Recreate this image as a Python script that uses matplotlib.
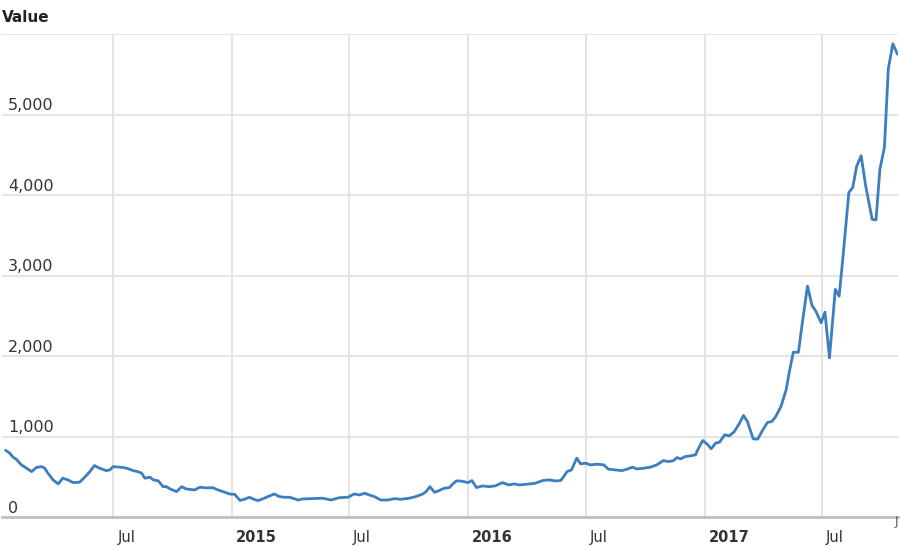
import matplotlib
matplotlib.use("Agg")
import matplotlib.pyplot as plt
import matplotlib.dates as mdates
import matplotlib.transforms as mtrans
import pandas as pd

dates = [
    "2014-01-16", "2014-01-22", "2014-01-27", "2014-02-01", "2014-02-09", "2014-02-17",
    "2014-02-25", "2014-03-04", "2014-03-12", "2014-03-17", "2014-03-22", "2014-03-30",
    "2014-04-07", "2014-04-14", "2014-04-22", "2014-04-30", "2014-05-10", "2014-05-18",
    "2014-05-26", "2014-06-02", "2014-06-10", "2014-06-20", "2014-06-26", "2014-07-01",
    "2014-07-11", "2014-07-22", "2014-08-01", "2014-08-08", "2014-08-14", "2014-08-19",
    "2014-08-27", "2014-09-01", "2014-09-09", "2014-09-16", "2014-09-21", "2014-09-28",
    "2014-10-07", "2014-10-15", "2014-10-22", "2014-11-04", "2014-11-12", "2014-11-22",
    "2014-12-02", "2014-12-10", "2014-12-18", "2014-12-28", "2015-01-05", "2015-01-13",
    "2015-01-20", "2015-01-28", "2015-02-02", "2015-02-10", "2015-02-17", "2015-02-28",
    "2015-03-07", "2015-03-15", "2015-03-23", "2015-03-31", "2015-04-13", "2015-04-20",
    "2015-05-06", "2015-05-21", "2015-06-03", "2015-06-16", "2015-06-29", "2015-07-09",
    "2015-07-17", "2015-07-25", "2015-08-01", "2015-08-09", "2015-08-19", "2015-08-30",
    "2015-09-09", "2015-09-19", "2015-10-02", "2015-10-12", "2015-10-23", "2015-10-28",
    "2015-11-03", "2015-11-10", "2015-11-17", "2015-11-25", "2015-12-03", "2015-12-08",
    "2015-12-14", "2015-12-21", "2016-01-01", "2016-01-07", "2016-01-14", "2016-01-23",
    "2016-02-02", "2016-02-12", "2016-02-23", "2016-03-04", "2016-03-12", "2016-03-20",
    "2016-04-01", "2016-04-14", "2016-04-25", "2016-05-05", "2016-05-15", "2016-05-23",
    "2016-05-28", "2016-06-02", "2016-06-09", "2016-06-17", "2016-06-23", "2016-07-01",
    "2016-07-08", "2016-07-19", "2016-07-29", "2016-08-05", "2016-08-16", "2016-08-26",
    "2016-09-03", "2016-09-11", "2016-09-18", "2016-09-29", "2016-10-09", "2016-10-19",
    "2016-10-29", "2016-11-06", "2016-11-14", "2016-11-19", "2016-11-25", "2016-12-02",
    "2016-12-10", "2016-12-18", "2016-12-20", "2016-12-26", "2016-12-29", "2017-01-06",
    "2017-01-11", "2017-01-18", "2017-01-24", "2017-02-01", "2017-02-08", "2017-02-16",
    "2017-02-24", "2017-03-02", "2017-03-08", "2017-03-17", "2017-03-24", "2017-04-01",
    "2017-04-08", "2017-04-15", "2017-04-21", "2017-04-29", "2017-05-07", "2017-05-12",
    "2017-05-18", "2017-05-26", "2017-06-01", "2017-06-09", "2017-06-16", "2017-06-22",
    "2017-06-30", "2017-07-06", "2017-07-13", "2017-07-22", "2017-07-28", "2017-08-03",
    "2017-08-12", "2017-08-18", "2017-08-24", "2017-08-31", "2017-09-07", "2017-09-17",
    "2017-09-23", "2017-09-29", "2017-10-06", "2017-10-12", "2017-10-19", "2017-10-26",
]
values = [
    829, 797, 747, 722, 651, 610,
    568, 618, 630, 610, 548, 465,
    415, 486, 465, 431, 436, 498,
    568, 643, 610, 580, 589, 630,
    623, 610, 580, 568, 548, 486,
    498, 465, 452, 381, 381, 349,
    319, 381, 352, 340, 374, 365,
    369, 340, 319, 290, 285, 210,
    224, 249, 228, 207, 228, 265,
    290, 257, 249, 249, 215, 228,
    232, 237, 215, 244, 249, 290,
    278, 299, 278, 257, 215, 215,
    232, 224, 237, 257, 290, 319,
    381, 311, 331, 361, 369, 411,
    452, 450, 431, 456, 369, 390,
    381, 390, 431, 402, 415, 402,
    411, 423, 456, 465, 452, 456,
    506, 568, 589, 735, 664, 672,
    651, 660, 651, 598, 589, 580,
    598, 623, 601, 610, 623, 651,
    705, 692, 705, 742, 726, 755,
    763, 776, 817, 913, 954, 900,
    851, 922, 934, 1025, 1012, 1066,
    1171, 1265, 1191, 975, 971, 1087,
    1178, 1191, 1253, 1377, 1585, 1810,
    2050, 2050, 2416, 2872, 2631, 2560,
    2416, 2548, 1980, 2831, 2747, 3245,
    4035, 4097, 4359, 4491, 4117, 3702,
    3694, 4325, 4595, 5570, 5882, 5757,
]

y_ticks = [0, 1000, 2000, 3000, 4000, 5000, 6000]
y_labels = ["0", "1,000", "2,000", "3,000", "4,000", "5,000", ""]
x_ticks = ["2014-07-01", "2015-01-01", "2015-07-01", "2016-01-01",
           "2016-07-01", "2017-01-01", "2017-07-01"]
x_labels = ["Jul", "2015", "Jul", "2016", "Jul", "2017", "Jul"]
x_bold = [False, True, False, True, False, True, False]

x = pd.to_datetime(dates)
xt = pd.to_datetime(x_ticks)

fig = plt.figure(figsize=(9.0, 5.47), dpi=100)
ax = fig.add_axes([2 / 900, 1 - 517.3 / 547, 896 / 900, (517.3 - 34.3) / 547])

ax.plot(x, values, color="#3b7fc0", lw=2.0, solid_joinstyle="round", zorder=3)

ax.set_xlim(pd.Timestamp("2014-01-10"), pd.Timestamp("2017-10-27"))
ax.set_ylim(0, 6000)

for s in ["top", "right", "left"]:
    ax.spines[s].set_visible(False)
ax.spines["bottom"].set_color("#c0c0c0")
ax.spines["bottom"].set_linewidth(2.0)

ax.set_yticks(y_ticks)
ax.set_xticks(xt)
ax.set_yticklabels([])
ax.set_xticklabels([])
ax.tick_params(length=0)
ax.grid(True, color="#e4e4e4", lw=1.4)
ax.set_axisbelow(True)

# y labels inside plot, above the gridlines
ytrans = mtrans.blended_transform_factory(ax.transAxes, ax.transData) + \
    mtrans.ScaledTranslation(6 / 100, 1.5 / 100, fig.dpi_scale_trans)
for v, lab in zip(y_ticks, y_labels):
    if lab:
        ax.text(0, v, lab, transform=ytrans, ha="left", va="bottom",
                fontsize=11.5, color="#333333", family="DejaVu Sans")

# x labels to the right of the gridlines
xtrans = mtrans.blended_transform_factory(ax.transData, ax.transAxes) + \
    mtrans.ScaledTranslation(4 / 100, -20 / 100, fig.dpi_scale_trans)
for d, lab, b in zip(xt, x_labels, x_bold):
    ax.text(mdates.date2num(d), 0, lab, transform=xtrans, ha="left", va="center",
            fontsize=10.5, color="#333333", fontweight="bold" if b else "normal",
            family="DejaVu Sans")

fig.text(2 / 900, 1 - 17 / 547, "Value", ha="left", va="center", fontsize=11,
         fontweight="bold", color="#222222", family="DejaVu Sans")
fig.text(895 / 900, 1 - 521 / 547, "J", ha="left", va="center", fontsize=9,
         color="#555555", family="DejaVu Sans")

fig.savefig("out.png", dpi=100)
